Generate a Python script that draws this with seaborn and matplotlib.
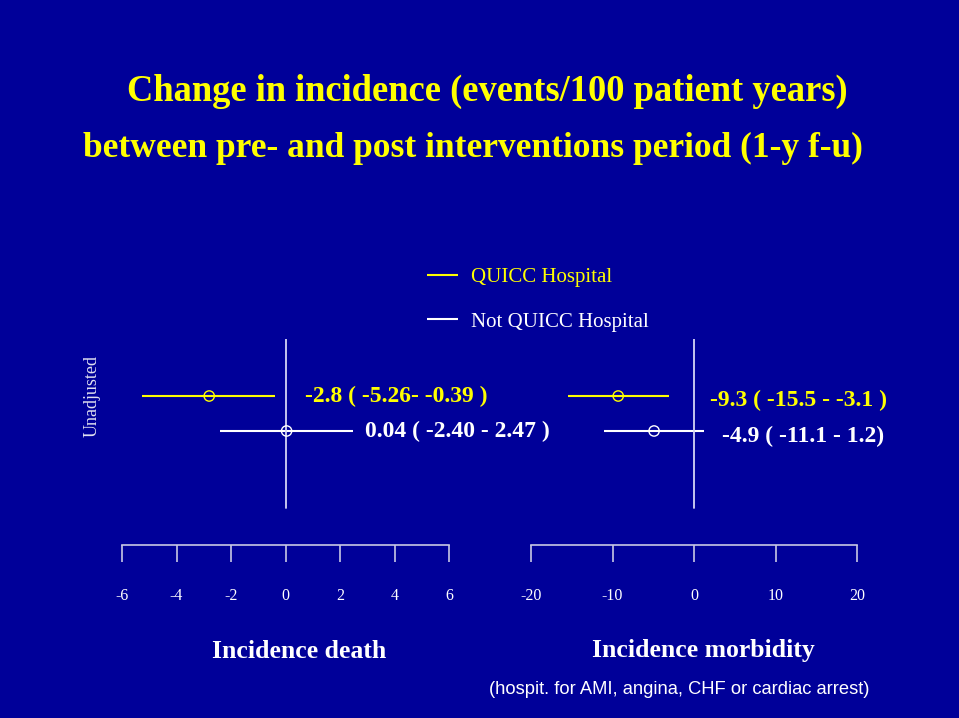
import pandas as pd
import matplotlib.pyplot as plt
import seaborn as sns

# Data
groups = ["QUICC Hospital", "Not QUICC Hospital"]
colors = ["#ffff00", "#ffffff"]

death_est = [-2.8, 0.04]
death_lo = [-5.26, -2.40]
death_hi = [-0.39, 2.47]
death_text = ["-2.8 ( -5.26- -0.39 )", "0.04 ( -2.40 - 2.47 )"]

morb_est = [-9.3, -4.9]
morb_lo = [-15.5, -11.1]
morb_hi = [-3.1, 1.2]
morb_text = ["-9.3 ( -15.5 - -3.1 )", "-4.9 ( -11.1 - 1.2)"]

death_ticks = [-6, -4, -2, 0, 2, 4, 6]
morb_ticks = [-20, -10, 0, 10, 20]

bg = "#000099"
axis_col = "#c8c8e4"

sns.set_theme(style="white")
plt.rcParams['font.family'] = ['Liberation Serif', 'DejaVu Serif']

fig = plt.figure(figsize=(9.59, 7.18), dpi=100, facecolor=bg)

W, H = 959, 718


def panel(x0, x1, est, lo, hi, texts, text_x, text_dy, ticks):
    ax = fig.add_axes([x0 / W, 1 - 545 / H, (x1 - x0) / W, 206 / H])
    ax.set_facecolor("none")
    df = pd.DataFrame({"group": groups, "est": est, "lo": lo, "hi": hi,
                       "row": range(len(groups))})
    for i, r in df.iterrows():
        ax.hlines(r["row"], r["lo"], r["hi"], color=colors[i], lw=1.5,
                  label=r["group"])
        sns.scatterplot(x=[r["est"]], y=[r["row"]], ax=ax, color="none",
                        edgecolor=colors[i], s=55, linewidth=1.0, zorder=3,
                        legend=False)
        ax.text(text_x[i], r["row"] + text_dy[i], texts[i], color=colors[i],
                fontsize=17, fontweight="bold", va="center", ha="left")
    if ax.get_legend() is not None:
        ax.get_legend().remove()
    ax.axvline(0, ymin=(545 - 508) / 206, ymax=1, color="#d4d4f4", lw=1.3)
    ax.set_xlim(ticks[0], ticks[-1])
    ax.set_ylim(4.26, -1.63)
    ax.set_xticks(ticks)
    ax.set_xticklabels([str(t) for t in ticks])
    ax.set_yticks([])
    for s in ["left", "right", "top"]:
        ax.spines[s].set_visible(False)
    ax.spines["bottom"].set_color(axis_col)
    ax.spines["bottom"].set_linewidth(1.2)
    ax.tick_params(axis="x", direction="out", length=12, width=1.2,
                   color=axis_col, labelcolor="white", labelsize=11.5,
                   pad=19, bottom=True)
    ax.set_xlabel("")
    ax.set_ylabel("")
    return ax


ax1 = panel(122, 449, death_est, death_lo, death_hi, death_text,
            [0.72, 2.92], [0.0, 0.0], death_ticks)
ax2 = panel(531, 857, morb_est, morb_lo, morb_hi, morb_text,
            [1.96, 3.44], [0.12, 0.15], morb_ticks)

# Legend
handles, labels = ax1.get_legend_handles_labels()
fig.legend(handles, labels, loc="upper left",
           bbox_to_anchor=(417 / W, 1 - 257 / H), frameon=False,
           fontsize=15, handlelength=1.45, handletextpad=0.65,
           labelspacing=1.2, borderpad=0, labelcolor=colors)

# Titles and labels
fig.text(487 / W, 1 - 91 / H, "Change in incidence (events/100 patient years)",
         color="#ffff00", fontsize=26.3, fontweight="bold", ha="center", va="center")
fig.text(473 / W, 1 - 148 / H, "between pre- and post interventions period (1-y f-u)",
         color="#ffff00", fontsize=25.5, fontweight="bold", ha="center", va="center")
fig.text(92 / W, 1 - 396 / H, "Unadjusted", color="#e0e0f0", fontsize=13,
         rotation=90, ha="center", va="center")
fig.text(299 / W, 1 - 651 / H, "Incidence death", color="white", fontsize=18.5,
         fontweight="bold", ha="center", va="center")
fig.text(703 / W, 1 - 651 / H, "Incidence morbidity", color="white", fontsize=18.5,
         fontweight="bold", ha="center", va="center")
fig.text(679 / W, 1 - 690 / H, "(hospit. for AMI, angina, CHF or cardiac arrest)",
         color="white", fontsize=13.2, family="Liberation Sans",
         ha="center", va="center")

plt.savefig("out.png", dpi=100, facecolor=bg)
